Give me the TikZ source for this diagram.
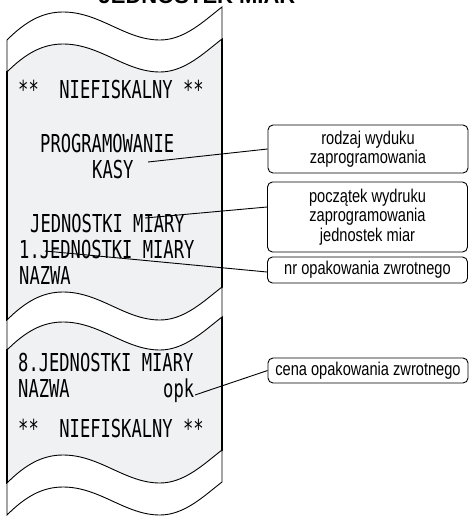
\documentclass[tikz,border=0pt]{standalone}
\usepackage{fontspec}
\setmainfont{Liberation Sans}
\newfontfamily\rcpt[FakeStretch=0.693]{DejaVu Sans Mono}
\newfontfamily\boxf[FakeStretch=0.79]{Liberation Sans}
\definecolor{paper}{RGB}{240,241,243}
\newcommand{\wvf}[1]{(7,#1) .. controls (25,#1-18) and (42,#1-28) .. (63,#1-28) .. controls (100,#1-28) and (125,#1) .. (160,#1) .. controls (185,#1) and (205,#1-20) .. (222,#1-33)}
\newcommand{\wvb}[1]{.. controls (205,#1-20) and (185,#1) .. (160,#1) .. controls (125,#1) and (100,#1-28) .. (63,#1-28) .. controls (42,#1-28) and (25,#1-18) .. (7,#1)}
\tikzset{
  band/.style={fill=white,draw=black,line width=0.9pt},
  edge/.style={draw=black,line width=2pt},
  rc/.style={font=\rcpt\fontsize{24.7}{26}\selectfont,anchor=base west,inner sep=0pt},
  lbl/.style={draw=black,line width=0.9pt,rounded corners=5pt,minimum width=200pt,inner sep=0pt,align=center,font=\boxf\fontsize{18.5}{19.5}\selectfont},
  conn/.style={draw=black,line width=0.9pt}
}
\begin{document}
\begin{tikzpicture}[x=1pt,y=-1pt]
\useasboundingbox (0,0) rectangle (469,517);
% title (cut off)
\node[anchor=base,inner sep=0pt,font=\bfseries\fontsize{22}{24}\selectfont] (title) at (197,3) {JEDNOSTEK MIAR};
% paper
\fill[paper] \wvf{72} -- (222,287) \wvb{320} -- cycle;
\fill[paper] \wvf{350} -- (222,450) \wvb{483} -- cycle;
\draw[edge] (7,71) -- (7,321) (222,38) -- (222,288);
\draw[edge] (7,349) -- (7,484) (222,316) -- (222,451);
\path[band] \wvf{40} -- (222,39) \wvb{72} -- cycle;
\path[band] \wvf{320} -- (222,317) \wvb{350} -- cycle;
\path[band] \wvf{483} -- (222,482) \wvb{515} -- cycle;
% receipt text
\node[rc] (t1) at (18,98) {**~~NIEFISKALNY~**};
\node[rc] (t2) at (40,152) {PROGRAMOWANIE};
\node[rc] (t3) at (92,178) {KASY};
\node[rc] (t4) at (30,232) {JEDNOSTKI MIARY};
\node[rc] (t5) at (19,258) {1.JEDNOSTKI MIARY};
\node[rc] (t6) at (19,284) {NAZWA};
\node[rc] (t7) at (18,371) {8.JEDNOSTKI MIARY};
\node[rc] (t8) at (18,397) {NAZWA};
\node[rc] (opk) at (163,397) {opk};
\node[rc] (t9) at (18,437) {**~~NIEFISKALNY~**};
% label boxes
\node[lbl,minimum height=48pt] (b1) at (368,149) {rodzaj wyduku\\zaprogramowania};
\node[lbl,minimum height=70pt] (b2) at (367.5,217) {początek wydruku\\zaprogramowania\\jednostek miar};
\node[lbl,minimum height=26pt] (b3) at (367.5,270) {nr opakowania zwrotnego};
\node[lbl,minimum height=25pt] (b4) at (368,370.5) {cena opakowania zwrotnego};
% connectors
\coordinate (p1) at (148,162);
\coordinate (p2) at (145,218);
\coordinate (p3) at (45,251);
\coordinate (p4) at (195,395);
\draw[conn] (p1) -- (b1.west);
\draw[conn] (p2) -- ([yshift=10pt]b2.west);
\draw[conn] (p3) -- ([yshift=-2pt]b3.west);
\draw[conn] (p4) -- (b4.west);
\end{tikzpicture}
\end{document}
